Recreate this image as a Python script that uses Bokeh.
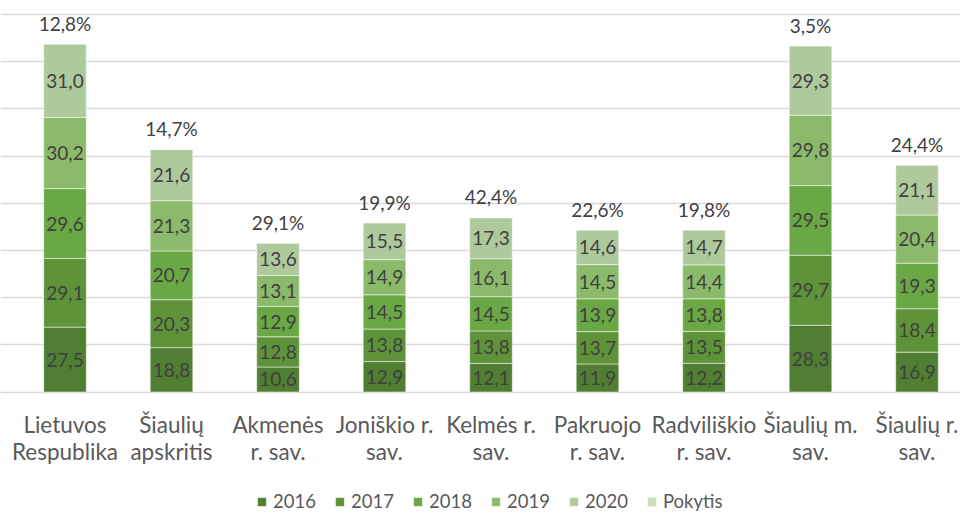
from bokeh.plotting import figure
from bokeh.models import ColumnDataSource, Legend, LegendItem, FixedTicker, Range1d, Grid
from bokeh.core.properties import value
from bokeh.embed import file_html
from bokeh.resources import INLINE

categories = ["Lietuvos\nRespublika", "Šiaulių\napskritis", "Akmenės\nr. sav.",
              "Joniškio r.\nsav.", "Kelmės r.\nsav.", "Pakruojo\nr. sav.",
              "Radviliškio\nr. sav.", "Šiaulių m.\nsav.", "Šiaulių r.\nsav."]
years = ["2016", "2017", "2018", "2019", "2020"]
v2016 = [27.5, 18.8, 10.6, 12.9, 12.1, 11.9, 12.2, 28.3, 16.9]
v2017 = [29.1, 20.3, 12.8, 13.8, 13.8, 13.7, 13.5, 29.7, 18.4]
v2018 = [29.6, 20.7, 12.9, 14.5, 14.5, 13.9, 13.8, 29.5, 19.3]
v2019 = [30.2, 21.3, 13.1, 14.9, 16.1, 14.5, 14.4, 29.8, 20.4]
v2020 = [31.0, 21.6, 13.6, 15.5, 17.3, 14.6, 14.7, 29.3, 21.1]
pokytis = [12.8, 14.7, 29.1, 19.9, 42.4, 22.6, 19.8, 3.5, 24.4]
grid_ticks = [0, 20, 40, 60, 80, 100, 120, 140, 160]

colors = ["#507e32", "#5e9339", "#6aa745", "#8cba6b", "#aeca9c"]
pokytis_color = "#c9dfc0"
FONT = "Lato"

W, H = 960, 513
series = [v2016, v2017, v2018, v2019, v2020]
xs = list(range(len(categories)))
data = {"x": xs}
for y, s in zip(years, series):
    data[y] = s
src = ColumnDataSource(data)

ppu_x = 106.5
x0 = -64.5 / ppu_x
ppu_y = 377.5 / 160.0
y_top = 160 + 14 / ppu_y
y_bot = -(H - 391.5) / ppu_y

p = figure(width=W, height=H, x_range=Range1d(x0, x0 + W / ppu_x),
           y_range=Range1d(y_bot, y_top), min_border=0,
           toolbar_location=None, output_backend="svg",
           x_axis_location=None, y_axis_location=None,
           outline_line_color=None)
p.xgrid.visible = False
p.ygrid.visible = False
p.add_layout(Grid(dimension=1, ticker=FixedTicker(ticks=grid_ticks),
                  grid_line_color="#d9d9d9", grid_line_width=1.3))

renderers = p.vbar_stack(years, x="x", width=0.40, source=src,
                         fill_color=colors, line_color="white",
                         line_alpha=0.5, line_width=1)

# segment labels
lx, ly, lt = [], [], []
totals = [0.0] * len(xs)
for s in series:
    for i, v in enumerate(s):
        lx.append(xs[i])
        ly.append(totals[i] + v / 2)
        lt.append(f"{v:.1f}".replace(".", ","))
        totals[i] += v
p.text(x=lx, y=ly, text=lt, text_align="center", text_baseline="middle",
       text_font=value(FONT), text_font_size="19px", text_color="#404040")

# Pokytis (hidden zero-height series) + labels
pk_src = ColumnDataSource({"x": xs, "top": totals,
                           "lab": [f"{v:.1f}%".replace(".", ",") for v in pokytis]})
pk_r = p.vbar(x="x", bottom="top", top="top", width=0.40, source=pk_src,
              fill_color=pokytis_color, line_color=None)
p.text(x="x", y="top", text="lab", source=pk_src, y_offset=-21,
       text_align="center", text_baseline="middle",
       text_font=value(FONT), text_font_size="19px", text_color="#404040")

# category labels
p.text(x=xs, y=[0] * len(xs), text=categories, y_offset=19,
       text_align="center", text_baseline="top", text_line_height=1.0,
       text_font=value(FONT), text_font_size="22.5px", text_color="#595959")

items = [LegendItem(label=y, renderers=[r]) for y, r in zip(years, renderers)]
items.append(LegendItem(label="Pokytis", renderers=[pk_r]))
legend = Legend(items=items, orientation="horizontal", location=(256, 1),
                glyph_width=11, glyph_height=11, label_standoff=6,
                label_width=44, spacing=17, padding=0, margin=0,
                border_line_color=None, background_fill_alpha=0,
                label_text_font=FONT, label_text_font_size="18.5px",
                label_text_color="#595959", label_height=18)
p.add_layout(legend)

open("out.html", "w").write(file_html(p, INLINE))
